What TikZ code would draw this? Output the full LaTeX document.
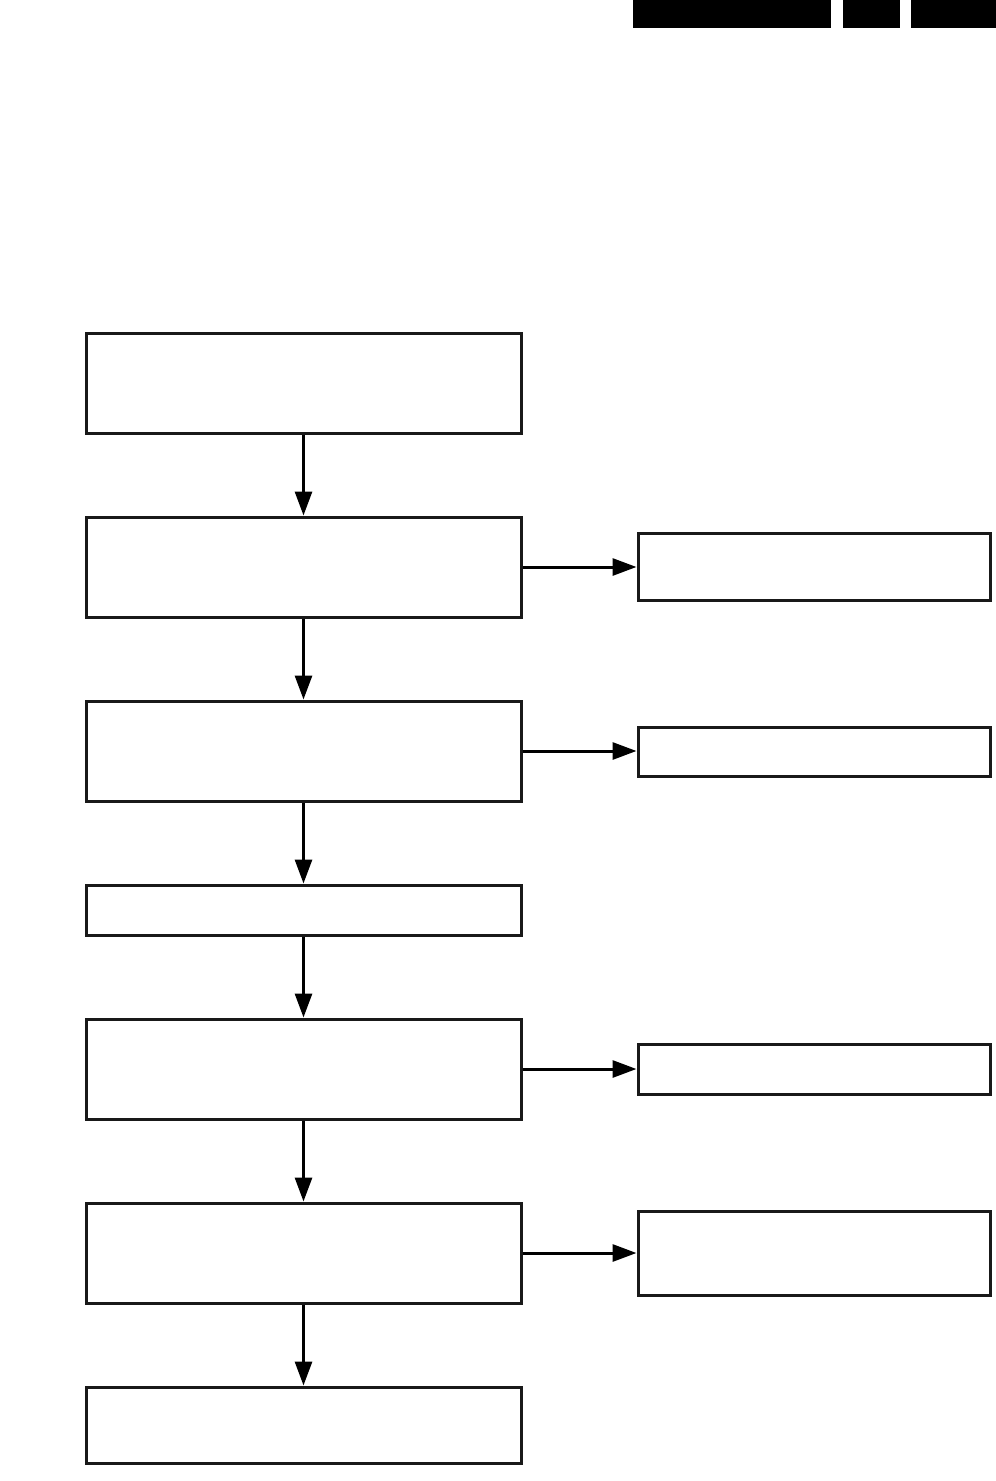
\documentclass[tikz,border=0pt]{standalone}
\usetikzlibrary{arrows.meta}
\begin{document}
\begin{tikzpicture}[x=1pt,y=-1pt,
  mainbox/.style={draw=black!90,line width=3pt,minimum width=435pt,inner sep=0pt,fill=white},
  sidebox/.style={draw=black!90,line width=3pt,minimum width=352pt,inner sep=0pt,fill=white},
  bar/.style={fill=black,draw=none},
  conn/.style={line width=3pt,-{Triangle[length=24pt,width=17pt]}}]
\useasboundingbox (0,0) rectangle (996,1481);
\fill[white] (0,0) rectangle (996,1481);
% header bars
\node[bar,minimum width=198pt,minimum height=28pt,inner sep=0pt] (h1) at (732,14) {};
\node[bar,minimum width=57pt,minimum height=28pt,inner sep=0pt] (h2) at (871.5,14) {};
\node[bar,minimum width=85pt,minimum height=28pt,inner sep=0pt] (h3) at (953.5,14) {};
% main column
\node[mainbox,minimum height=100pt] (m1) at (303.5,383) {};
\node[mainbox,minimum height=100pt] (m2) at (303.5,567) {};
\node[mainbox,minimum height=100pt] (m3) at (303.5,751) {};
\node[mainbox,minimum height=50pt] (m4) at (303.5,910) {};
\node[mainbox,minimum height=100pt] (m5) at (303.5,1069) {};
\node[mainbox,minimum height=100pt] (m6) at (303.5,1253) {};
\node[mainbox,minimum height=76pt] (m7) at (303.5,1425) {};
% side boxes
\node[sidebox,minimum height=67pt] (s1) at (814,566.5) {};
\node[sidebox,minimum height=49pt] (s2) at (814,751.5) {};
\node[sidebox,minimum height=50pt] (s3) at (814,1069) {};
\node[sidebox,minimum height=84pt] (s4) at (814,1253) {};
% connectors
\draw[conn] (m1.south) -- (m2.north);
\draw[conn] (m2.south) -- (m3.north);
\draw[conn] (m3.south) -- (m4.north);
\draw[conn] (m4.south) -- (m5.north);
\draw[conn] (m5.south) -- (m6.north);
\draw[conn] (m6.south) -- (m7.north);
\draw[conn] (m2.east) -- (m2.east -| s1.west);
\draw[conn] (m3.east) -- (m3.east -| s2.west);
\draw[conn] (m5.east) -- (m5.east -| s3.west);
\draw[conn] (m6.east) -- (m6.east -| s4.west);
\end{tikzpicture}
\end{document}
